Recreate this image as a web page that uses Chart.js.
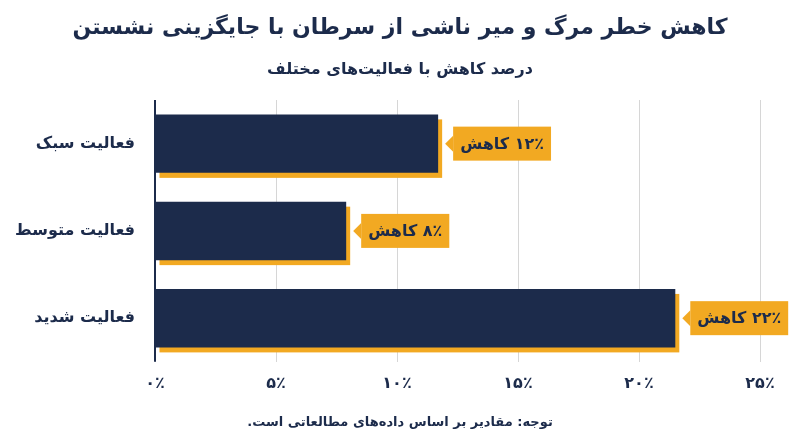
<!DOCTYPE html>
<html><head><meta charset="utf-8">
<script src="https://cdn.jsdelivr.net/npm/chart.js@4"></script>
<style>html,body{margin:0;padding:0;background:#fff}#w{width:800px;height:447px}</style>
</head><body><div id="w"><canvas id="c"></canvas></div>
<script>
const categories = ["فعالیت سبک","فعالیت متوسط","فعالیت شدید"];
const values = [11.7, 7.9, 21.5];
const valueLabels = ["۱۲٪ کاهش","۸٪ کاهش","۲۲٪ کاهش"];
const tickLabels = ["۰٪","۵٪","۱۰٪","۱۵٪","۲۰٪","۲۵٪"];
const FONT = "'DejaVu Sans', sans-serif";
const NAVY = "#1c2b4b", ORANGE = "#f2a922";

const deco = {
  id:"deco",
  beforeDatasetsDraw(chart){
    const ctx = chart.ctx, meta = chart.getDatasetMeta(0);
    ctx.save(); ctx.fillStyle = ORANGE;
    meta.data.forEach(b=>{
      const h = b.height;
      ctx.fillRect(b.base+4, b.y-h/2+5, b.x-b.base, h);
    });
    ctx.restore();
  },
  afterDatasetsDraw(chart){
    const ctx = chart.ctx, meta = chart.getDatasetMeta(0), ca = chart.chartArea;
    ctx.save();
    ctx.strokeStyle = NAVY; ctx.lineWidth = 2;
    ctx.beginPath(); ctx.moveTo(ca.left, ca.top); ctx.lineTo(ca.left, ca.bottom); ctx.stroke();
    ctx.font = "bold 16px " + FONT; ctx.direction = "rtl";
    meta.data.forEach((b,i)=>{
      const t = valueLabels[i];
      const w = ctx.measureText(t).width + 14, h = 34;
      const x0 = b.x + 15, y0 = b.y - h/2;
      ctx.fillStyle = ORANGE;
      ctx.fillRect(x0, y0, w, h);
      ctx.beginPath(); ctx.moveTo(x0, b.y-8); ctx.lineTo(x0-8, b.y); ctx.lineTo(x0, b.y+8); ctx.fill();
      ctx.fillStyle = NAVY; ctx.textAlign = "center"; ctx.textBaseline = "middle";
      ctx.fillText(t, x0 + w/2, b.y + 1);
    });
    ctx.textAlign = "center"; ctx.fillStyle = NAVY; ctx.textBaseline = "middle";
    ctx.font = "bold 22px " + FONT;
    ctx.fillText("کاهش خطر مرگ و میر ناشی از سرطان با جایگزینی نشستن", 400, 28);
    ctx.font = "bold 16px " + FONT;
    ctx.fillText("درصد کاهش با فعالیت‌های مختلف", 400, 70);
    ctx.font = "bold 13px " + FONT;
    ctx.fillText("توجه: مقادیر بر اساس داده‌های مطالعاتی است.", 400, 423);
    ctx.restore();
  }
};

new Chart(document.getElementById("c"), {
  type:"bar",
  data:{labels:categories, datasets:[{data:values, backgroundColor:NAVY, categoryPercentage:1, barPercentage:0.67}]},
  options:{
    indexAxis:"y", responsive:true, maintainAspectRatio:false, animation:false,
    layout:{padding:{top:100, right:40, bottom:42, left:0}},
    plugins:{legend:{display:false}, tooltip:{enabled:false}},
    scales:{
      x:{min:0, max:25, border:{display:false},
         grid:{color:"#d6d6d6", drawTicks:false},
         ticks:{stepSize:5, padding:12, color:NAVY, font:{family:FONT, size:16, weight:"bold"},
                callback:(v,i)=>tickLabels[i]}},
      y:{border:{display:false}, grid:{display:false},
         afterFit(s){ s.width = 155; },
         ticks:{padding:12, color:NAVY, font:{family:FONT, size:16, weight:"bold"}}}
    }
  },
  plugins:[deco]
});
</script></body></html>
